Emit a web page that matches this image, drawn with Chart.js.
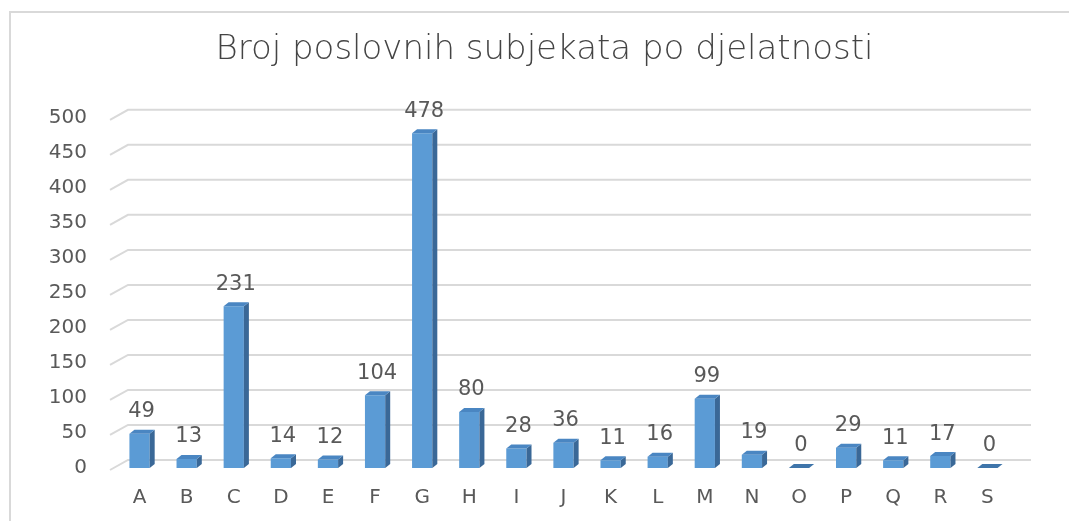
<!DOCTYPE html>
<html lang="hr">
<head>
<meta charset="UTF-8">
<title>Broj poslovnih subjekata po djelatnosti</title>
<script src="https://cdn.jsdelivr.net/npm/chart.js"></script>
<style>
  html, body { margin: 0; padding: 0; background: #fff; }
  #wrap { position: relative; width: 1069px; height: 521px; overflow: hidden; }
  #frame { position: absolute; left: 9px; top: 11px; width: 1100px; height: 560px;
           border-left: 2px solid #d9d9d9; border-top: 2px solid #d9d9d9; }
  canvas { position: absolute; left: 0; top: 0; }
</style>
</head>
<body>
<div id="wrap">
  <div id="frame"></div>
  <canvas id="chart" width="1069" height="521"></canvas>
</div>
<script>
const categories = ['A','B','C','D','E','F','G','H','I','J','K','L','M','N','O','P','Q','R','S'];
const counts = [49, 13, 231, 14, 12, 104, 478, 80, 28, 36, 11, 16, 99, 19, 0, 29, 11, 17, 0];
const yTicks = [0, 50, 100, 150, 200, 250, 300, 350, 400, 450, 500];

const textColor = '#595959';
const gridColor = '#d9d9d9';
const depthX = 5, depthY = 4;

// gridlines with a slanted floor edge, drawn behind the bars
const floorGrid = {
  id: 'floorGrid',
  beforeDatasetsDraw(chart) {
    const { ctx, chartArea } = chart;
    const y = chart.scales.y;
    ctx.save();
    ctx.strokeStyle = gridColor;
    ctx.lineWidth = 2;
    yTicks.forEach(v => {
      const py = y.getPixelForValue(v);
      ctx.beginPath();
      ctx.moveTo(chartArea.left - 6, py + 2);
      ctx.lineTo(chartArea.left + 12, py - 8);
      ctx.lineTo(chartArea.right + 20, py - 8);
      ctx.stroke();
    });
    ctx.restore();
  }
};

// side and top faces of the bars, plus value labels
const bars3d = {
  id: 'bars3d',
  afterDatasetsDraw(chart) {
    const { ctx } = chart;
    const meta = chart.getDatasetMeta(0);
    ctx.save();
    meta.data.forEach((bar, i) => {
      const half = bar.width / 2;
      const l = bar.x - half, r = bar.x + half;
      const top = bar.y, base = bar.base;
      // right side
      ctx.fillStyle = '#3a6897';
      ctx.beginPath();
      ctx.moveTo(r, top);
      ctx.lineTo(r + depthX, top - depthY);
      ctx.lineTo(r + depthX, base - depthY);
      ctx.lineTo(r, base);
      ctx.closePath();
      ctx.fill();
      // top
      ctx.fillStyle = counts[i] === 0 ? '#3f75aa' : '#4a86c2';
      ctx.beginPath();
      ctx.moveTo(l, top);
      ctx.lineTo(l + depthX, top - depthY);
      ctx.lineTo(r + depthX, top - depthY);
      ctx.lineTo(r, top);
      ctx.closePath();
      ctx.fill();
      // value label
      ctx.fillStyle = textColor;
      ctx.font = '21px "DejaVu Sans"';
      ctx.textAlign = 'center';
      ctx.textBaseline = 'middle';
      ctx.fillText(String(counts[i]), bar.x + 2, top - 22);
    });
    ctx.restore();
  }
};

new Chart(document.getElementById('chart'), {
  type: 'bar',
  data: {
    labels: categories,
    datasets: [{
      data: counts,
      backgroundColor: '#5b9bd5',
      borderWidth: 0,
      barPercentage: 0.43,
      categoryPercentage: 1
    }]
  },
  options: {
    responsive: false,
    animation: false,
    layout: { padding: { left: 20, right: 0, top: 0, bottom: 0 } },
    plugins: {
      legend: { display: false },
      tooltip: { enabled: false },
      title: {
        display: true,
        text: 'Broj poslovnih subjekata po djelatnosti',
        color: '#444444',
        font: { family: '"DejaVu Sans"', size: 34, weight: 300, lineHeight: 1.2 },
        padding: { top: 30, bottom: 47 }
      }
    },
    scales: {
      x: {
        grid: { display: false, drawTicks: false },
        border: { display: false },
        ticks: { color: textColor, font: { family: '"DejaVu Sans"', size: 20 }, padding: 18 },
        afterFit(s) { s.height = 53; }
      },
      y: {
        min: 0,
        max: 500,
        grid: { display: false, drawTicks: false },
        border: { display: false },
        afterBuildTicks(s) { s.ticks = yTicks.map(v => ({ value: v })); },
        ticks: { color: textColor, font: { family: '"DejaVu Sans"', size: 20 }, padding: 29 },
        afterFit(s) { s.width = 96; }
      },
      // empty right-hand axis: keeps room on the right so the title stays centred on the frame
      y2: {
        position: 'right',
        grid: { display: false, drawTicks: false },
        border: { display: false },
        ticks: { display: false },
        afterFit(s) { s.width = 58; }
      }
    }
  },
  plugins: [floorGrid, bars3d]
});
</script>
</body>
</html>
